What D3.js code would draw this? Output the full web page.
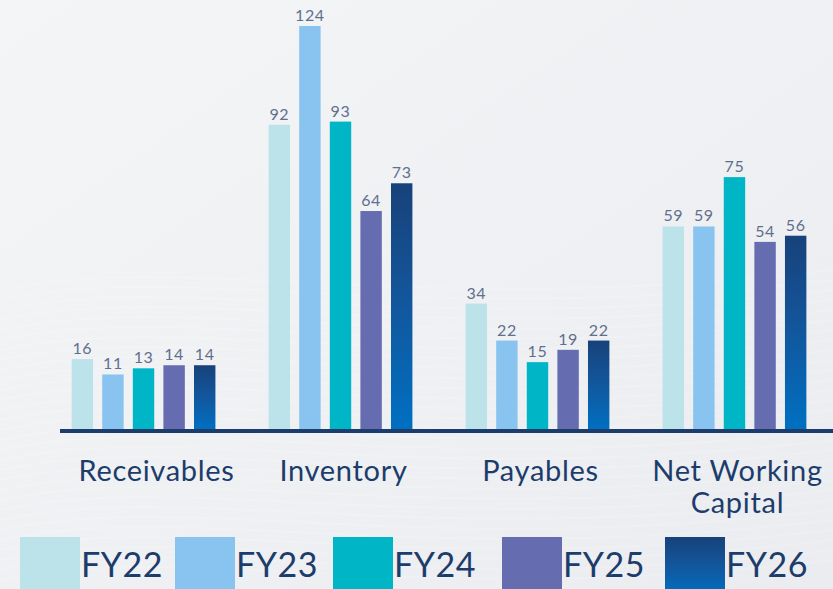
<!DOCTYPE html>
<html>
<head>
<meta charset="utf-8">
<script src="https://cdn.jsdelivr.net/npm/d3@7"></script>
<style>
  html, body { margin: 0; padding: 0; background: #eff0f3; }
  svg { display: block; }
</style>
</head>
<body>
<script>
let w = 833;
let h = 589;

// chart data
var categories = ["Receivables", "Inventory", "Payables", "Net Working Capital"];
var years = ["FY22", "FY23", "FY24", "FY25", "FY26"];
var fy22 = [16, 92, 34, 59];
var fy23 = [11, 124, 22, 59];
var fy24 = [13, 93, 15, 75];
var fy25 = [14, 64, 19, 54];
var fy26 = [14, 73, 22, 56];
var series = [fy22, fy23, fy24, fy25, fy26];

var colors = ["#bde3ea", "#88c4ef", "#00b6c6", "#656cb0", "url(#fy26grad)"];
var navy = "#1c3d6c";

let svg = d3.select("body").append("svg").attr("width", w).attr("height", h);

// background + gradient defs
let defs = svg.append("defs");
let bg = defs.append("linearGradient").attr("id", "bggrad")
    .attr("x1", 0).attr("y1", 0).attr("x2", 1).attr("y2", 1);
bg.append("stop").attr("offset", "0%").attr("stop-color", "#f4f5f7");
bg.append("stop").attr("offset", "100%").attr("stop-color", "#ebecef");

let g26 = defs.append("linearGradient").attr("id", "fy26grad")
    .attr("x1", 0).attr("y1", 0).attr("x2", 0).attr("y2", 1);
g26.append("stop").attr("offset", "0%").attr("stop-color", "#17427a");
g26.append("stop").attr("offset", "45%").attr("stop-color", "#13559a");
g26.append("stop").attr("offset", "100%").attr("stop-color", "#0070c2");

svg.append("rect").attr("width", w).attr("height", h).attr("fill", "url(#bggrad)");

// faint wavy texture in the lower part
for (let i = 0; i < 30; i++) {
    let y0 = 290 + i * 10;
    svg.append("path")
        .attr("d", `M0 ${y0} C 200 ${y0 - 40}, 400 ${y0 + 30}, 833 ${y0 - 20}`)
        .attr("fill", "none")
        .attr("stroke", "#ffffff")
        .attr("stroke-opacity", 0.15)
        .attr("stroke-width", 2);
}

// scales
let baseline = 430;
let x0 = d3.scaleBand().domain(categories).range([47, 831]).paddingInner(0.27).paddingOuter(0.125);
let x1 = d3.scaleBand().domain(years).range([0, x0.bandwidth()]).paddingInner(0.3);
let y = d3.scaleLinear().domain([-7, 124]).range([baseline, 26]);

// bars
series.forEach(function(vals, si) {
    let grp = svg.append("g");
    grp.selectAll("rect")
        .data(vals)
        .enter()
        .append("rect")
        .attr("x", function(d, i) { return x0(categories[i]) + x1(years[si]); })
        .attr("y", function(d) { return y(d); })
        .attr("width", x1.bandwidth())
        .attr("height", function(d) { return baseline - y(d); })
        .attr("fill", colors[si]);

    grp.selectAll("text")
        .data(vals)
        .enter()
        .append("text")
        .attr("x", function(d, i) { return x0(categories[i]) + x1(years[si]) + x1.bandwidth() / 2; })
        .attr("y", function(d) { return y(d) - 5; })
        .attr("text-anchor", "middle")
        .style("font-family", "Lato, sans-serif")
        .style("font-size", "16px")
        .style("letter-spacing", "0.6px")
        .attr("fill", "#5f6f8e")
        .text(function(d) { return d; });
});

// baseline
svg.append("rect")
    .attr("x", 60).attr("y", 429)
    .attr("width", w - 60).attr("height", 4)
    .attr("fill", navy);

// category labels
let catLabels = [["Receivables"], ["Inventory"], ["Payables"], ["Net Working", "Capital"]];
catLabels.forEach(function(lines, i) {
    let cx = x0(categories[i]) + x0.bandwidth() / 2 + (i === 0 ? 13 : 3);
    let t = svg.append("text")
        .attr("x", cx)
        .attr("y", 481)
        .attr("text-anchor", "middle")
        .style("font-family", "Lato, sans-serif")
        .style("font-size", "29px")
        .style("letter-spacing", "0.7px")
        .attr("fill", navy);
    lines.forEach(function(line, li) {
        t.append("tspan")
            .attr("x", cx)
            .attr("dy", li === 0 ? 0 : 32)
            .text(line);
    });
});

// legend
let legendX = [20, 175, 333, 502, 665];
years.forEach(function(yr, i) {
    svg.append("rect")
        .attr("x", legendX[i]).attr("y", 537)
        .attr("width", 60).attr("height", 60)
        .attr("fill", colors[i]);
    svg.append("text")
        .attr("x", legendX[i] + 61).attr("y", 577)
        .style("font-family", "Lato, sans-serif")
        .style("font-size", "34px")
        .style("letter-spacing", "0.5px")
        .attr("fill", navy)
        .text(yr);
});
</script>
</body>
</html>
